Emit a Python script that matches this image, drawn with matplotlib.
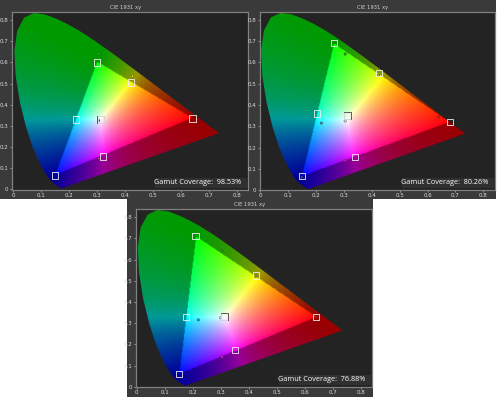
import matplotlib
matplotlib.use("Agg")
import matplotlib.pyplot as plt
import numpy as np
from matplotlib.patches import Polygon, Rectangle

W, H = 500, 401

# CIE 1931 spectral locus, 380-700 nm
locus_x = [0.1741, 0.1733, 0.1714, 0.1689, 0.1644, 0.1566, 0.1510, 0.1440, 0.1355, 0.1241,
           0.1096, 0.0913, 0.0687, 0.0454, 0.0235, 0.0082, 0.0039, 0.0139, 0.0389, 0.0743,
           0.1142, 0.1547, 0.1929, 0.2296, 0.2658, 0.3016, 0.3373, 0.3731, 0.4087, 0.4441,
           0.4788, 0.5125, 0.5448, 0.5752, 0.6029, 0.6270, 0.6658, 0.6915, 0.7079, 0.7190,
           0.7260, 0.7347]
locus_y = [0.0050, 0.0048, 0.0051, 0.0069, 0.0109, 0.0177, 0.0227, 0.0297, 0.0399, 0.0578,
           0.0868, 0.1327, 0.2007, 0.2950, 0.4127, 0.5384, 0.6548, 0.7502, 0.8120, 0.8338,
           0.8262, 0.8059, 0.7816, 0.7543, 0.7243, 0.6923, 0.6589, 0.6245, 0.5896, 0.5547,
           0.5202, 0.4866, 0.4544, 0.4242, 0.3965, 0.3725, 0.3340, 0.3083, 0.2920, 0.2809,
           0.2740, 0.2653]

titles = ["CIE 1931 xy", "CIE 1931 xy", "CIE 1931 xy"]
coverage = ["Gamut Coverage:  98.53%", "Gamut Coverage:  80.26%", "Gamut Coverage:  76.88%"]

# measured points: R, G, B, C, Y, M, white
meas_x = [[0.64, 0.30, 0.15, 0.225, 0.42, 0.32, 0.313],
          [0.68, 0.265, 0.15, 0.205, 0.425, 0.34, 0.313],
          [0.64, 0.21, 0.15, 0.175, 0.425, 0.352, 0.313]]
meas_y = [[0.335, 0.60, 0.065, 0.33, 0.505, 0.155, 0.33],
          [0.32, 0.69, 0.065, 0.36, 0.55, 0.155, 0.35],
          [0.33, 0.71, 0.06, 0.33, 0.525, 0.172, 0.33]]
# small target dots
targ_x = [[0.305, 0.425, 0.305, 0.305],
          [0.305, 0.425, 0.64, 0.22, 0.305, 0.305, 0.15],
          [0.305, 0.425, 0.64, 0.22, 0.30, 0.305]]
targ_y = [[0.64, 0.535, 0.145, 0.325],
          [0.64, 0.54, 0.345, 0.315, 0.325, 0.14, 0.06],
          [0.64, 0.52, 0.33, 0.315, 0.325, 0.14]]
targ_c = [["#22cc22", "#ffee22", "#dd22aa", "#555555"],
          ["#22aa22", "#aaaa22", "#cc2222", "#22aaaa", "#dddddd", "#dd22aa", "#2244cc"],
          ["#22aa22", "#aaaa22", "#cc2222", "#22aaaa", "#dddddd", "#dd22aa"]]

# panel geometry in pixels: outer box, frame, where 0 and 0.8 land
outer = [(0, 0, 253, 199), (253, 0, 496, 199), (127, 199, 373, 397)]
frames = [(12, 12, 248, 190), (260, 12, 495, 190), (136, 209, 372, 387)]
origin = [(13.3, 189.3), (259.3, 190), (136.7, 386.7)]
scale = [(280, 211.5), (280, 212.5), (280, 212)]


def chroma_image(rx, ry):
    # colour every xy cell through the panel's own primaries
    grid = np.linspace(0, 0.85, 300)
    xx, yy = np.meshgrid(grid, grid)
    yy = np.maximum(yy, 1e-3)
    xyz = np.stack([xx / yy, np.ones_like(xx), (1 - xx - yy) / yy], axis=-1)

    prim = np.array([[rx[i] / ry[i], 1, (1 - rx[i] - ry[i]) / ry[i]] for i in range(3)]).T
    white = np.array([0.3127 / 0.329, 1, (1 - 0.3127 - 0.329) / 0.329])
    s = np.linalg.solve(prim, white)
    rgb = xyz @ np.linalg.inv(prim * s).T

    inside = rgb.min(axis=-1) >= 0
    rgb = np.clip(rgb, 0, None)
    rgb = rgb / np.maximum(rgb.max(axis=-1, keepdims=True), 1e-6)
    rgb[inside] = rgb[inside] ** 0.8
    rgb[~inside] *= 0.6
    return rgb


fig = plt.figure(figsize=(W / 100, H / 100), dpi=100, facecolor="white")

for i in range(3):
    x0, y0, x1, y1 = outer[i]
    fig.add_artist(Rectangle((x0 / W, 1 - y1 / H), (x1 - x0) / W, (y1 - y0) / H,
                             transform=fig.transFigure, facecolor="#3a3a3a", edgecolor="none", zorder=-1))

    fx0, fy0, fx1, fy1 = frames[i]
    ax = fig.add_axes([fx0 / W, 1 - fy1 / H, (fx1 - fx0) / W, (fy1 - fy0) / H])
    ax.set_facecolor("#232323")

    ox, oy = origin[i]
    sx, sy = scale[i]

    im = ax.imshow(chroma_image(meas_x[i], meas_y[i]), origin="lower", extent=(0, 0.85, 0, 0.85),
                   aspect="auto", interpolation="bilinear")
    im.set_clip_path(Polygon(np.column_stack([locus_x, locus_y]), transform=ax.transData))
    ax.set_xlim((fx0 - ox) / sx, (fx1 - ox) / sx)
    ax.set_ylim((oy - fy1) / sy, (oy - fy0) / sy)

    ax.scatter(targ_x[i], targ_y[i], s=3, c=targ_c[i], edgecolors="#333333", linewidths=0.3, zorder=3)
    ax.scatter(meas_x[i][6], meas_y[i][6], s=26, marker="s", facecolors="none",
               edgecolors="#444444", linewidths=0.6, zorder=4)
    ax.scatter(meas_x[i], meas_y[i], s=20, marker="s", facecolors="none",
               edgecolors="#eeeeee", linewidths=0.6, zorder=5)

    ticks = [0, 0.1, 0.2, 0.3, 0.4, 0.5, 0.6, 0.7, 0.8]
    labels = ["0", "0.1", "0.2", "0.3", "0.4", "0.5", "0.6", "0.7", "0.8"]
    ax.set_xticks(ticks, labels)
    ax.set_yticks(ticks, labels)
    ax.tick_params(colors="#dddddd", labelsize=4, length=1.5, width=0.4, pad=1)
    for sp in ax.spines.values():
        sp.set_color("#808080")
        sp.set_linewidth(0.9)

    ax.text(0.48, 1 + 4.5 / (fy1 - fy0), titles[i], transform=ax.transAxes, ha="center", va="center",
            fontsize=3.8, color="#cfcfcf")
    ax.add_patch(Rectangle((0.605, 0.013), 0.395, 0.057, transform=ax.transAxes,
                           facecolor="#303030", edgecolor="none", zorder=6))
    ax.text(0.97, 0.04, coverage[i], transform=ax.transAxes, ha="right", va="center",
            fontsize=5.2, color="white", family="Open Sans", zorder=7)

fig.savefig("out.png", dpi=100, facecolor="white")
